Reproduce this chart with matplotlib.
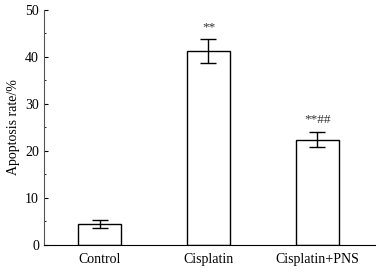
import numpy as np
import matplotlib
matplotlib.use("Agg")
import matplotlib.pyplot as plt
from matplotlib.ticker import MultipleLocator

plt.rcParams['font.family'] = ['Liberation Serif', 'DejaVu Serif']

groups = ["Control", "Cisplatin", "Cisplatin+PNS"]
rate = [4.5, 41.3, 22.4]
sd = [0.9, 2.5, 1.6]
marks = ["", "**", "**##"]

fig = plt.figure(figsize=(3.79, 2.74), dpi=100)
ax = fig.add_axes([0.116, 0.106, 0.874, 0.858])

x = np.arange(len(groups))
ax.bar(x, rate, width=0.4, color="white", edgecolor="black", linewidth=1.0, zorder=2)
ax.errorbar(x, rate, yerr=sd, fmt="none", ecolor="black", elinewidth=1.0,
            capsize=5.5, capthick=1.0, zorder=3)

for xi, r, s, m in zip(x, rate, sd, marks):
    if m:
        ax.text(xi, r + s + 1.2, m, ha="center", va="bottom", fontsize=9.5, color="#333333")

ax.set_xlim(-0.51, 2.53)
ax.set_ylim(0, 50)
ax.set_xticks(x)
ax.set_xticklabels(groups, fontsize=10)
ax.yaxis.set_major_locator(MultipleLocator(10))
ax.yaxis.set_minor_locator(MultipleLocator(5))
ax.tick_params(axis="y", direction="in", length=3, width=0.8, labelsize=10)
ax.tick_params(axis="y", which="minor", direction="in", length=1.5, width=0.6)
ax.tick_params(axis="x", length=0, pad=6)
ax.set_ylabel("Apoptosis rate/%", fontsize=10, labelpad=4)
ax.spines["top"].set_visible(False)
ax.spines["right"].set_visible(False)
ax.spines["left"].set_color("#555555")

fig.savefig("out.png", dpi=100)
